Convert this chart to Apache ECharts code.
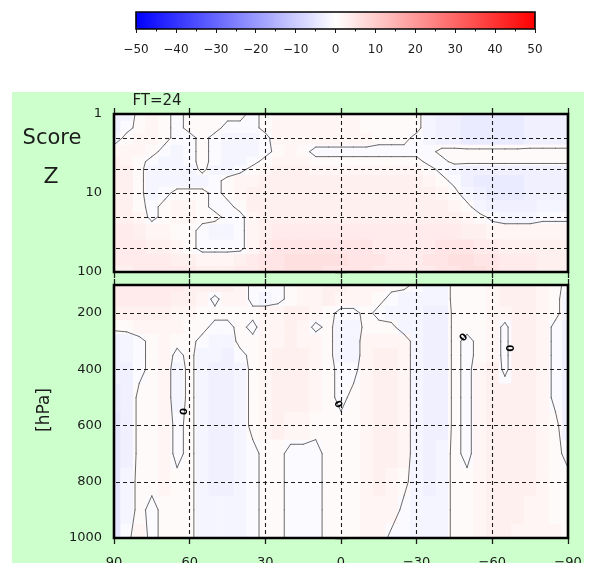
<!DOCTYPE html>
<html>
<head>
<meta charset="utf-8">
<script src="https://cdn.jsdelivr.net/npm/echarts@6/dist/echarts.min.js"></script>
<style>
html, body { margin: 0; padding: 0; background: #ffffff; }
#chart { width: 592px; height: 563px; }
</style>
</head>
<body>
<div id="chart"></div>
<script>
// Latitude nodes (degrees north) shared by both panels
const latitudes = [90,85,80,75,70,65,60,55,50,45,40,35,30,25,20,15,10,5,0,-5,-10,-15,-20,-25,-30,-35,-40,-45,-50,-55,-60,-65,-70,-75,-80,-85,-90];

// Upper panel: pressure levels (hPa, log axis) and score rows, one row per level
const topLevels = [1,1.5,2,3,4,5,7,10,15,20,30,50,70,100];
const topScore = [
  [-3,-2,1,2,1,-1,1,1,1,1,1,-1,1,2,2,2,2,2,2,2,1,1,1,1,1,-2,-3,-3,-4,-4,-4,-4,-4,-3,-3,-3,-3],
  [-3,-1,1,2,1,-1,1,1,1,-1,-1,-1,1,2,2,2,2,2,2,2,1,1,1,1,1,-2,-3,-3,-4,-4,-4,-4,-4,-3,-3,-3,-3],
  [-2,1,2,2,1,-1,-1,1,-1,-2,-2,-2,-1,2,2,2,2,2,2,2,2,1,1,1,-1,-2,-3,-3,-4,-4,-4,-4,-4,-3,-3,-3,-3],
  [2,2,2,1,-1,-2,-1,1,-1,-2,-2,-2,-1,1,2,1,-1,-1,-1,-1,-1,-1,-1,-1,-1,-1,1,1,1,1,1,1,1,1,1,1,1],
  [3,2,1,-1,-2,-2,-1,1,-1,-2,-2,-1,1,2,2,2,1,1,1,1,1,1,1,1,1,-1,-1,1,1,1,1,1,1,1,1,1,1],
  [3,3,1,-2,-2,-2,-2,1,-2,-2,-1,1,2,3,3,3,2,2,2,2,2,2,2,2,2,1,-1,-2,-3,-3,-3,-3,-3,-3,-3,-3,-3],
  [3,3,1,-2,-2,-2,-2,-2,-1,1,2,2,3,3,3,3,3,3,3,3,3,3,3,3,3,2,1,-1,-3,-4,-4,-4,-4,-3,-3,-3,-3],
  [3,3,1,-2,-1,1,1,1,-1,1,2,3,3,3,3,3,3,3,3,3,3,3,3,3,3,3,2,1,-2,-3,-4,-4,-4,-3,-3,-3,-3],
  [3,3,1,-1,1,2,2,1,-1,-1,1,3,3,3,3,3,3,3,3,3,3,3,3,3,3,3,3,2,1,-2,-3,-3,-3,-3,-2,-2,-2],
  [3,3,2,-1,1,2,2,1,1,-1,-1,2,3,3,3,3,3,3,3,3,3,3,3,3,3,3,3,3,2,1,-1,-2,-2,-2,-1,-1,-1],
  [4,4,3,2,2,1,1,-1,-2,-2,-1,2,3,4,4,4,4,4,4,4,4,4,4,4,4,4,4,4,3,3,2,2,2,2,2,2,2],
  [4,4,4,3,3,2,1,-1,-1,-1,-1,2,4,5,5,5,5,5,5,5,5,4,4,4,4,4,5,5,5,4,4,3,3,3,3,3,3],
  [4,4,4,4,4,3,3,2,2,2,3,4,5,5,6,6,6,6,6,5,5,5,4,4,4,5,5,6,6,5,5,4,4,4,3,3,3],
  [3,3,4,4,4,4,4,3,3,3,4,4,5,5,6,6,6,5,5,5,5,4,4,4,4,4,5,5,6,6,5,4,4,4,3,3,3]
];

// Lower panel: pressure levels (hPa, linear axis) and score rows
const bottomLevels = [100,150,200,250,300,350,400,500,600,700,800,900,1000];
const bottomScore = [
  [4,4,4,4,4,4,3,3,3,3,2,-1,-1,-1,1,2,2,3,3,2,2,2,1,1,-1,-2,-2,1,1,1,2,3,3,3,2,1,-1],
  [4,4,4,4,4,3,3,2,-1,2,2,-1,-2,-1,1,2,2,3,2,2,2,1,-1,-2,-2,-2,-2,1,1,1,2,3,3,3,2,1,-2],
  [3,3,3,3,3,2,2,1,1,1,1,1,2,2,3,3,2,1,-1,-1,1,-1,-2,-2,-2,-3,-3,1,1,1,2,2,3,3,2,1,-2],
  [1,1,2,2,2,2,1,1,-1,-1,1,-1,2,2,3,2,-1,1,-2,-2,1,1,1,-2,-2,-3,-3,1,1,1,2,-1,3,3,2,-1,-3],
  [-3,-2,-1,1,2,1,1,-1,-2,-2,1,1,2,2,3,2,2,1,-2,-2,2,2,2,2,-2,-3,-3,1,-1,1,2,-1,3,3,2,-1,-3],
  [-3,-2,-1,1,2,-1,1,-2,-2,-3,-1,1,2,3,3,3,2,1,-2,-2,2,3,3,2,-2,-3,-3,1,-1,1,2,-1,3,3,2,-1,-3],
  [-3,-3,-1,1,2,-2,1,-2,-3,-3,-2,1,2,3,3,3,2,1,-1,-1,2,3,3,2,-2,-3,-3,1,-1,2,3,-1,3,3,2,-1,-3],
  [-4,-3,1,1,2,-2,1,-2,-3,-3,-2,1,2,3,3,3,2,1,-1,1,2,3,3,2,-2,-3,-3,1,-1,2,3,3,3,3,2,-1,-3],
  [-5,-3,1,1,2,-1,1,-2,-3,-3,-2,1,2,3,2,2,1,1,1,1,2,3,3,2,-2,-3,-3,1,-1,2,3,3,3,3,2,1,-3],
  [-5,-3,1,1,2,-1,1,-2,-3,-3,-2,-1,1,1,-1,-1,-1,1,1,1,2,3,3,2,-2,-3,-2,1,-1,2,3,3,3,3,2,1,-1],
  [-5,-2,1,1,2,1,1,-2,-3,-3,-2,-1,1,1,-1,-1,-1,1,1,1,2,3,2,1,-2,-3,-2,1,1,2,3,3,3,3,2,1,1],
  [-5,-2,1,-1,1,1,1,-2,-2,-2,-2,-1,1,1,-1,-1,-1,1,1,1,2,2,2,-1,-2,-2,-2,1,1,2,3,3,3,2,2,1,1],
  [-5,-1,2,-1,1,1,1,-2,-2,-2,-2,-1,1,1,-1,-1,-1,1,1,1,2,2,-1,-1,-2,-2,-2,1,1,2,3,3,2,2,2,2,1]
];

// Axis ticks, grid lines and the contour that is drawn
const scoreRange = [-50, 50];
const latGrid = [60, 30, 0, -30, -60];
const topGridLevels = [2, 5, 10, 20, 50];
const bottomTickLevels = [200, 400, 600, 800, 1000];
const bottomGridLevels = [200, 400, 600, 800];
const contourLevel = 0;
// approximate spots (lat, hPa) where the contour value is written
const contourLabelSpots = [[62, 505], [1.5, 520], [-50, 265], [-67, 306]];

const FONT = 'DejaVu Sans';
const INK = '#1c1c1c';
const minusSign = v => String(v).replace('-', '\u2212');
const plainNumber = v => String(v);

// one rectangle per grid node, edges half way to the neighbouring nodes
function buildCells(lats, levs, rows, useLog, levMin, levMax) {
  const mid = useLog ? (a, b) => Math.sqrt(a * b) : (a, b) => (a + b) / 2;
  const out = [];
  for (let j = 0; j < levs.length; j++) {
    const y0 = j === 0 ? levMin : mid(levs[j - 1], levs[j]);
    const y1 = j === levs.length - 1 ? levMax : mid(levs[j], levs[j + 1]);
    for (let i = 0; i < lats.length; i++) {
      const x0 = i === 0 ? lats[0] : (lats[i - 1] + lats[i]) / 2;
      const x1 = i === lats.length - 1 ? lats[i] : (lats[i] + lats[i + 1]) / 2;
      out.push([lats[i], levs[j], rows[j][i], x0, x1, y0, y1]);
    }
  }
  return out;
}

// marching squares on the node grid; returns segments [lat1, p1, lat2, p2]
function traceContour(lats, levs, rows, level, useLog) {
  const tf = useLog ? Math.log10 : (v => v);
  const inv = useLog ? (t => Math.pow(10, t)) : (t => t);
  const segs = [];
  for (let j = 0; j < levs.length - 1; j++) {
    const ya = tf(levs[j]), yb = tf(levs[j + 1]);
    for (let i = 0; i < lats.length - 1; i++) {
      const xa = lats[i], xb = lats[i + 1];
      const v = [rows[j][i], rows[j][i + 1], rows[j + 1][i + 1], rows[j + 1][i]];
      const P = [[xa, ya], [xb, ya], [xb, yb], [xa, yb]];
      const cross = [];
      for (let e = 0; e < 4; e++) {
        const p = e, q = (e + 1) % 4;
        if ((v[p] >= level) !== (v[q] >= level)) {
          const t = (level - v[p]) / (v[q] - v[p]);
          cross[e] = [P[p][0] + t * (P[q][0] - P[p][0]), P[p][1] + t * (P[q][1] - P[p][1])];
        }
      }
      const edges = [0, 1, 2, 3].filter(e => cross[e]);
      let pairs = [];
      if (edges.length === 2) pairs = [[edges[0], edges[1]]];
      else if (edges.length === 4) {
        const centreHigh = (v[0] + v[1] + v[2] + v[3]) / 4 >= level;
        pairs = centreHigh === (v[0] >= level) ? [[0, 1], [2, 3]] : [[3, 0], [1, 2]];
      }
      for (const [e1, e2] of pairs) {
        segs.push([cross[e1][0], inv(cross[e1][1]), cross[e2][0], inv(cross[e2][1])]);
      }
    }
  }
  return segs;
}

// put each contour value on the nearest traced segment
function placeContourLabels(spots, segs) {
  return spots.map(([lat, p]) => {
    let best = null, bestD = Infinity;
    for (const s of segs) {
      const mx = (s[0] + s[2]) / 2, my = (s[1] + s[3]) / 2;
      const d = Math.pow((mx - lat) / 180, 2) + Math.pow((my - p) / 900, 2);
      if (d < bestD) { bestD = d; best = [mx, my, s[0], s[1], s[2], s[3], contourLevel]; }
    }
    return best;
  });
}

const topCells = buildCells(latitudes, topLevels, topScore, true, 1, 100);
const bottomCells = buildCells(latitudes, bottomLevels, bottomScore, false, 100, 1000);
const topSegs = traceContour(latitudes, topLevels, topScore, contourLevel, true);
const bottomSegs = traceContour(latitudes, bottomLevels, bottomScore, contourLevel, false);
const bottomLabels = placeContourLabels(contourLabelSpots, bottomSegs);

function renderCell(params, api) {
  const a = api.coord([api.value(3), api.value(5)]);
  const b = api.coord([api.value(4), api.value(6)]);
  return {
    type: 'rect',
    shape: {
      x: Math.min(a[0], b[0]), y: Math.min(a[1], b[1]),
      width: Math.abs(b[0] - a[0]) + 0.7, height: Math.abs(b[1] - a[1]) + 0.7
    },
    style: { fill: api.visual('color') }
  };
}

function renderSegment(params, api) {
  const a = api.coord([api.value(0), api.value(1)]);
  const b = api.coord([api.value(2), api.value(3)]);
  return {
    type: 'line',
    shape: { x1: a[0], y1: a[1], x2: b[0], y2: b[1] },
    style: { stroke: '#5a5a5a', lineWidth: 0.9, lineCap: 'round' }
  };
}

function renderContourLabel(params, api) {
  const c = api.coord([api.value(0), api.value(1)]);
  const a = api.coord([api.value(2), api.value(3)]);
  const b = api.coord([api.value(4), api.value(5)]);
  let ang = Math.atan2(-(b[1] - a[1]), b[0] - a[0]);
  if (ang > Math.PI / 2) ang -= Math.PI;
  if (ang < -Math.PI / 2) ang += Math.PI;
  return {
    type: 'text', x: c[0], y: c[1], rotation: ang,
    style: {
      text: String(api.value(6)), fill: '#000',
      font: 'bold 10px "' + FONT + '"', align: 'center', verticalAlign: 'middle'
    }
  };
}

function gridLines(levels) {
  return {
    silent: true, symbol: ['none', 'none'], animation: false, z: 5,
    label: { show: false },
    emphasis: { disabled: true },
    lineStyle: { color: '#1e1e1e', type: [4, 3], width: 1.1 },
    data: latGrid.map(v => ({ xAxis: v })).concat(levels.map(v => ({ yAxis: v })))
  };
}

const tickStyle = { color: INK, width: 1.3 };
const labelStyle = { color: INK, fontFamily: FONT, fontSize: 13 };

function latAxis(gridIndex, position, showLabels) {
  return {
    gridIndex, type: 'value', position, min: -90, max: 90, interval: 30, inverse: true,
    axisLine: { show: false },
    axisTick: { show: true, length: 6, lineStyle: tickStyle },
    axisLabel: Object.assign({ show: showLabels, margin: 18, formatter: minusSign }, labelStyle),
    splitLine: { show: false }
  };
}

const option = {
  animation: false,
  backgroundColor: '#ffffff',
  textStyle: { fontFamily: FONT },
  graphic: [
    { type: 'rect', z: -20, silent: true, shape: { x: 12, y: 92, width: 572, height: 471 }, style: { fill: '#ccffcc' } },
    { type: 'text', z: 20, x: 52, y: 139, style: { text: 'Score', fill: INK, font: '21px "' + FONT + '"', align: 'center', verticalAlign: 'middle', textAlign: 'center', textVerticalAlign: 'middle' } },
    { type: 'text', z: 20, x: 51, y: 177, style: { text: 'Z', fill: INK, font: '22px "' + FONT + '"', align: 'center', verticalAlign: 'middle', textAlign: 'center', textVerticalAlign: 'middle' } },
    { type: 'text', z: 20, x: 157, y: 101, style: { text: 'FT=24', fill: INK, font: '15px "' + FONT + '"', align: 'center', verticalAlign: 'middle', textAlign: 'center', textVerticalAlign: 'middle' } },
    { type: 'text', z: 20, x: 45, y: 410, rotation: Math.PI / 2, style: { text: '[hPa]', fill: INK, font: '17px "' + FONT + '"', align: 'center', verticalAlign: 'middle', textAlign: 'center', textVerticalAlign: 'middle' } }
  ],
  visualMap: {
    type: 'continuous', min: scoreRange[0], max: scoreRange[1], dimension: 2, seriesIndex: [0, 2],
    orient: 'horizontal', left: 136, top: 12, itemWidth: 17, itemHeight: 399, padding: 0,
    calculable: false, hoverLink: false, realtime: false, text: null, showLabel: false,
    inRange: { color: ['#0000ff', '#ffffff', '#ff0000'] }
  },
  grid: [
    { left: 136, top: 12, width: 399, height: 17, show: true, z: 10, borderColor: '#000', borderWidth: 1.6, backgroundColor: 'transparent', outerBoundsMode: 'none' },
    { left: 114, top: 114, width: 454, height: 158, show: true, z: 10, borderColor: '#000', borderWidth: 2.6, backgroundColor: 'transparent', outerBoundsMode: 'none' },
    { left: 114, top: 285, width: 454, height: 253, show: true, z: 10, borderColor: '#000', borderWidth: 2.6, backgroundColor: 'transparent', outerBoundsMode: 'none' }
  ],
  xAxis: [
    {
      gridIndex: 0, type: 'value', position: 'bottom', min: scoreRange[0], max: scoreRange[1], interval: 10,
      axisLine: { show: false },
      axisTick: { show: true, length: 4, lineStyle: { color: INK, width: 1 } },
      minorTick: { show: true, splitNumber: 2, length: 2.5, lineStyle: { color: INK, width: 1 } },
      axisLabel: { margin: 15, color: INK, fontFamily: FONT, fontSize: 12, formatter: minusSign },
      splitLine: { show: false }
    },
    latAxis(1, 'bottom', false),
    latAxis(1, 'top', false),
    latAxis(2, 'bottom', true),
    latAxis(2, 'top', false)
  ],
  yAxis: [
    { gridIndex: 0, type: 'value', min: 0, max: 1, show: false },
    {
      gridIndex: 1, type: 'log', logBase: 10, min: 1, max: 100, inverse: true, position: 'left',
      axisLine: { show: false }, axisTick: { show: true, length: 6, lineStyle: tickStyle },
      axisLabel: Object.assign({ margin: 12, formatter: plainNumber }, labelStyle), splitLine: { show: false }
    },
    {
      gridIndex: 1, type: 'log', logBase: 10, min: 1, max: 100, inverse: true, position: 'right',
      axisLine: { show: false }, axisTick: { show: true, length: 6, lineStyle: tickStyle },
      axisLabel: { show: false }, splitLine: { show: false }
    },
    {
      gridIndex: 2, type: 'value', min: 100, max: 1000, inverse: true, position: 'left',
      axisLine: { show: false },
      axisTick: { show: true, length: 6, lineStyle: tickStyle, customValues: bottomTickLevels },
      axisLabel: Object.assign({ margin: 12, customValues: bottomTickLevels, formatter: plainNumber }, labelStyle),
      splitLine: { show: false }
    },
    {
      gridIndex: 2, type: 'value', min: 100, max: 1000, inverse: true, position: 'right',
      axisLine: { show: false },
      axisTick: { show: true, length: 6, lineStyle: tickStyle, customValues: bottomTickLevels },
      axisLabel: { show: false }, splitLine: { show: false }
    }
  ],
  series: [
    {
      type: 'custom', name: 'score upper', xAxisIndex: 1, yAxisIndex: 1, silent: true, clip: true,
      encode: { x: 0, y: 1 }, data: topCells, renderItem: renderCell, markLine: gridLines(topGridLevels)
    },
    {
      type: 'custom', name: 'zero line upper', xAxisIndex: 1, yAxisIndex: 1, silent: true, clip: true, z: 3,
      encode: { x: [0, 2], y: [1, 3] }, data: topSegs, renderItem: renderSegment
    },
    {
      type: 'custom', name: 'score lower', xAxisIndex: 3, yAxisIndex: 3, silent: true, clip: true,
      encode: { x: 0, y: 1 }, data: bottomCells, renderItem: renderCell, markLine: gridLines(bottomGridLevels)
    },
    {
      type: 'custom', name: 'zero line lower', xAxisIndex: 3, yAxisIndex: 3, silent: true, clip: true, z: 3,
      encode: { x: [0, 2], y: [1, 3] }, data: bottomSegs, renderItem: renderSegment
    },
    {
      type: 'custom', name: 'zero labels', xAxisIndex: 3, yAxisIndex: 3, silent: true, z: 6,
      encode: { x: 0, y: 1 }, data: bottomLabels, renderItem: renderContourLabel
    }
  ]
};

const chart = echarts.init(document.getElementById('chart'), null, { renderer: 'canvas' });
chart.setOption(option);
</script>
</body>
</html>
